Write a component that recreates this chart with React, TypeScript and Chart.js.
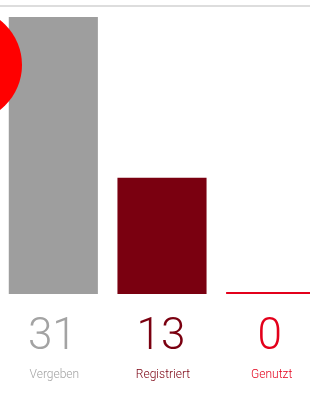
import React, { useEffect, useRef } from "react";
import { Chart, registerables } from "chart.js";

Chart.register(...registerables);

const categories = ["Vergeben", "Registriert", "Genutzt"];
const values = [31, 13, 0];
const barColors = ["#9e9e9e", "#7a0010", "#e3001b"];
const textColors = ["#a3a3a3", "#7a0010", "#e3001b"];
const yMax = 31;

const labelPlugin = {
  id: "bigLabels",
  afterDraw(chart: any) {
    const { ctx, scales } = chart;
    const x = scales.x;
    ctx.save();
    ctx.textAlign = "center";
    ctx.textBaseline = "alphabetic";
    categories.forEach((cat, i) => {
      const cx = x.getPixelForValue(i);
      ctx.fillStyle = textColors[i];
      ctx.font = "300 44px Roboto";
      ctx.fillText(String(values[i]), cx - 1, 349);
      ctx.font = "300 12px Roboto";
      ctx.fillText(cat, cx + 1, 378);
    });
    ctx.restore();
  },
};

export default function App() {
  const ref = useRef<HTMLCanvasElement>(null);
  useEffect(() => {
    if (!ref.current) return;
    const chart = new Chart(ref.current, {
      type: "bar",
      data: {
        labels: categories,
        datasets: [
          {
            data: values,
            backgroundColor: barColors,
            borderWidth: 0,
            minBarLength: 2,
            categoryPercentage: 1,
            barPercentage: 0.82,
          },
        ],
      },
      options: {
        animation: false,
        responsive: false,
        maintainAspectRatio: false,
        layout: { padding: { top: 17, bottom: 106, left: 0, right: 0 } },
        plugins: { legend: { display: false }, tooltip: { enabled: false } },
        scales: {
          x: { display: false },
          y: { display: false, min: 0, max: yMax },
        },
      },
      plugins: [labelPlugin],
    });
    return () => chart.destroy();
  }, []);
  return (
    <div
      style={{
        position: "fixed",
        left: 0,
        top: 0,
        width: 310,
        height: 400,
        overflow: "hidden",
        background: "#fff",
      }}
    >
      <div
        style={{
          position: "absolute",
          left: 0,
          top: 5,
          width: 310,
          height: 2,
          background: "#dddddd",
        }}
      />
      <canvas
        ref={ref}
        width={326}
        height={400}
        style={{ position: "absolute", left: -1, top: 0, width: 326, height: 400 }}
      />
      <div
        style={{
          position: "absolute",
          left: -92,
          top: 8,
          width: 114,
          height: 114,
          borderRadius: "50%",
          background: "#ff0000",
        }}
      />
    </div>
  );
}
